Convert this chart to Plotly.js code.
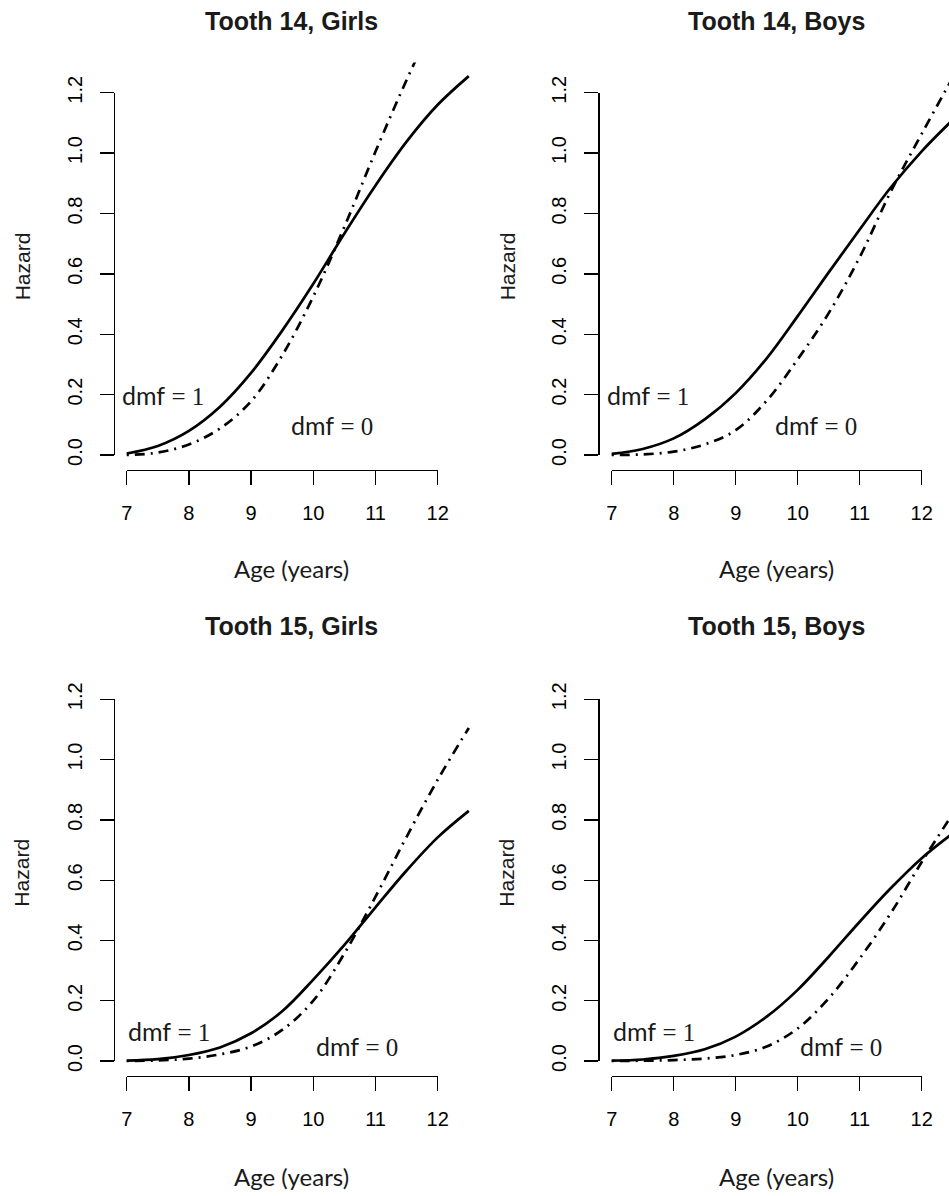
<!DOCTYPE html>
<html>
<head>
<meta charset="utf-8">
<script src="https://cdn.plot.ly/plotly-3.0.1.min.js"></script>
<style>
  html, body { margin: 0; padding: 0; background: #fff; }
  #chart { width: 949px; height: 1196px; }
</style>
</head>
<body>
<div id="chart"></div>
<script>
// ---------------- data ----------------
const ages = [7, 7.5, 8, 8.5, 9, 9.5, 10, 10.5, 11, 11.5, 12, 12.5];

const tooth14GirlsDmf1 = [0.005, 0.030, 0.080, 0.160, 0.272, 0.412, 0.567, 0.734, 0.893, 1.038, 1.160, 1.255];
const tooth14GirlsDmf0 = [0.000, 0.008, 0.035, 0.088, 0.178, 0.330, 0.525, 0.756, 1.005, 1.242, 1.460, 1.660];

const tooth14BoysDmf1 = [0.004, 0.020, 0.055, 0.118, 0.205, 0.320, 0.460, 0.605, 0.747, 0.886, 1.006, 1.110];
const tooth14BoysDmf0 = [0.000, 0.002, 0.011, 0.035, 0.082, 0.180, 0.317, 0.470, 0.655, 0.872, 1.064, 1.250];

const tooth15GirlsDmf1 = [0.001, 0.006, 0.020, 0.045, 0.092, 0.165, 0.270, 0.385, 0.510, 0.632, 0.742, 0.830];
const tooth15GirlsDmf0 = [0.000, 0.002, 0.008, 0.022, 0.048, 0.103, 0.200, 0.357, 0.545, 0.744, 0.933, 1.105];

const tooth15BoysDmf1 = [0.001, 0.005, 0.017, 0.039, 0.081, 0.147, 0.236, 0.346, 0.462, 0.573, 0.673, 0.755];
const tooth15BoysDmf0 = [0.000, 0.001, 0.003, 0.008, 0.020, 0.048, 0.108, 0.208, 0.340, 0.490, 0.660, 0.820];

const panelTitles = ["Tooth 14, Girls", "Tooth 14, Boys", "Tooth 15, Girls", "Tooth 15, Boys"];
const xTickVals = [7, 8, 9, 10, 11, 12];
const yTickVals = [0, 0.2, 0.4, 0.6, 0.8, 1.0, 1.2];
const yTickText = ["0.0", "0.2", "0.4", "0.6", "0.8", "1.0", "1.2"];
const xAxisLabel = "Age (years)";
const yAxisLabel = "Hazard";

const dmf1LabelX = [7.58, 7.58, 7.68, 7.68];
const dmf1LabelY = [0.2, 0.2, 0.1, 0.1];
const dmf0LabelX = [10.3, 10.3, 10.7, 10.7];
const dmf0LabelY = [0.1, 0.1, 0.05, 0.05];

const dmf1Series = [tooth14GirlsDmf1, tooth14BoysDmf1, tooth15GirlsDmf1, tooth15BoysDmf1];
const dmf0Series = [tooth14GirlsDmf0, tooth14BoysDmf0, tooth15GirlsDmf0, tooth15BoysDmf0];

// ---------------- geometry (pixels) ----------------
const W = 949, H = 1196;
const geo = [
  {x7: 126.7, ppy: 62.2, yLine: 114.0, y0: 455.0, ppu: 301.9, xLine: 470.0, titleY: 20.5, xlabY: 568, cx: 291, hazX: 22},
  {x7: 611.7, ppy: 62.0, yLine: 598.3, y0: 455.0, ppu: 301.9, xLine: 470.0, titleY: 20.5, xlabY: 568, cx: 776, hazX: 507},
  {x7: 126.7, ppy: 62.2, yLine: 114.0, y0: 1061.0, ppu: 301.4, xLine: 1075.7, titleY: 626, xlabY: 1176, cx: 291, hazX: 22},
  {x7: 611.7, ppy: 62.0, yLine: 598.3, y0: 1061.0, ppu: 301.4, xLine: 1075.7, titleY: 626, xlabY: 1176, cx: 776, hazX: 507}
];

const SANS = "Liberation Sans, Arial, Helvetica, sans-serif";
const CMSANS = "Lato, Liberation Sans, sans-serif";

function axName(letter, n) { return n === 1 ? letter + "axis" : letter + "axis" + n; }
function axRef(letter, n) { return n === 1 ? letter : letter + n; }

const traces = [];
const layout = {
  width: W, height: H,
  margin: {l: 0, r: 0, t: 0, b: 0, pad: 0},
  paper_bgcolor: "#ffffff",
  plot_bgcolor: "rgba(0,0,0,0)",
  showlegend: false,
  annotations: []
};

geo.forEach((g, i) => {
  const dn = i + 1;     // data axes
  const vn = i + 5;     // display axes
  const left = g.yLine;
  const right = Math.min(g.x7 + 5.62 * g.ppy, W);
  const bottom = g.xLine;
  const top = g.y0 - 1.30 * g.ppu;
  layout[axName("x", dn)] = {
    domain: [left / W, right / W],
    range: [7 + (left - g.x7) / g.ppy, 7 + (right - g.x7) / g.ppy],
    anchor: axRef("y", dn),
    visible: false, fixedrange: true
  };
  layout[axName("y", dn)] = {
    domain: [(H - bottom) / H, (H - top) / H],
    range: [(g.y0 - bottom) / g.ppu, (g.y0 - top) / g.ppu],
    anchor: axRef("x", dn),
    visible: false, fixedrange: true
  };
  layout[axName("x", vn)] = {
    domain: [g.x7 / W, (g.x7 + 5 * g.ppy) / W],
    range: [xTickVals[0], xTickVals[xTickVals.length - 1]],
    anchor: "free",
    position: (H - g.xLine) / H,
    showline: true, linecolor: "#000", linewidth: 1.3,
    ticks: "outside", ticklen: 14, tickwidth: 1.3, tickcolor: "#000",
    tickmode: "array", tickvals: xTickVals,
    tickfont: {family: SANS, size: 20, color: "#000"},
    ticklabelstandoff: 11,
    showgrid: false, zeroline: false, fixedrange: true
  };
  layout[axName("y", vn)] = {
    domain: [(H - g.y0) / H, (H - (g.y0 - 1.2 * g.ppu)) / H],
    range: [yTickVals[0], yTickVals[yTickVals.length - 1]],
    anchor: "free",
    position: g.yLine / W,
    showline: true, linecolor: "#000", linewidth: 1.3,
    ticks: "outside", ticklen: 14, tickwidth: 1.3, tickcolor: "#000",
    tickmode: "array", tickvals: yTickVals, ticktext: yTickText,
    tickangle: -90,
    tickfont: {family: SANS, size: 20, color: "#000"},
    ticklabelstandoff: 10,
    showgrid: false, zeroline: false, fixedrange: true
  };

  traces.push({
    type: "scatter", mode: "lines",
    x: ages, y: dmf1Series[i],
    xaxis: axRef("x", dn), yaxis: axRef("y", dn),
    line: {color: "#000", width: 2.7, shape: "spline", smoothing: 1},
    hoverinfo: "skip", showlegend: false
  });
  traces.push({
    type: "scatter", mode: "lines",
    x: ages, y: dmf0Series[i],
    xaxis: axRef("x", dn), yaxis: axRef("y", dn),
    line: {color: "#000", width: 2.7, shape: "spline", smoothing: 1, dash: "2px,6px,10px,6px"},
    hoverinfo: "skip", showlegend: false
  });
  traces.push({
    type: "scatter", mode: "none", x: [], y: [],
    xaxis: axRef("x", vn), yaxis: axRef("y", vn),
    hoverinfo: "skip", showlegend: false
  });

  layout.annotations.push({
    xref: "paper", yref: "paper", x: g.cx / W, y: (H - g.titleY) / H,
    xanchor: "center", yanchor: "middle", showarrow: false,
    text: "<b>" + panelTitles[i] + "</b>",
    font: {family: SANS, size: 25, color: "#1a1a1a"}
  });
  layout.annotations.push({
    xref: "paper", yref: "paper", x: g.cx / W, y: (H - g.xlabY) / H,
    xanchor: "center", yanchor: "middle", showarrow: false,
    text: xAxisLabel,
    font: {family: CMSANS, size: 24, color: "#1a1a1a"}
  });
  const yMid = g.y0 - 0.625 * g.ppu;
  layout.annotations.push({
    xref: "paper", yref: "paper", x: g.hazX / W, y: (H - yMid) / H,
    xanchor: "center", yanchor: "middle", showarrow: false, textangle: -90,
    text: yAxisLabel,
    font: {family: SANS, size: 21, color: "#1a1a1a"}
  });
  layout.annotations.push({
    xref: axRef("x", dn), yref: axRef("y", dn), x: dmf1LabelX[i], y: dmf1LabelY[i],
    xanchor: "center", yanchor: "middle", showarrow: false,
    text: '<span style="font-family:Lato">dmf</span><span style="font-family:Liberation Serif"> = 1</span>',
    font: {family: CMSANS, size: 25, color: "#1a1a1a"}
  });
  layout.annotations.push({
    xref: axRef("x", dn), yref: axRef("y", dn), x: dmf0LabelX[i], y: dmf0LabelY[i],
    xanchor: "center", yanchor: "middle", showarrow: false,
    text: '<span style="font-family:Lato">dmf</span><span style="font-family:Liberation Serif"> = 0</span>',
    font: {family: CMSANS, size: 25, color: "#1a1a1a"}
  });
});

Plotly.newPlot("chart", traces, layout, {staticPlot: true, displayModeBar: false});
</script>
</body>
</html>
